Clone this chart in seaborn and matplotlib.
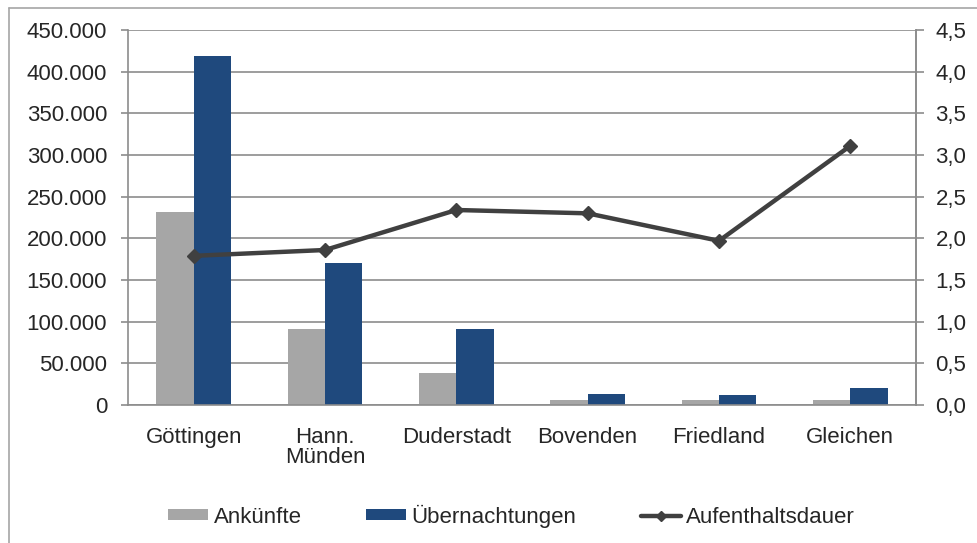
import matplotlib
matplotlib.use("Agg")
import matplotlib.pyplot as plt
from matplotlib.patches import Patch
from matplotlib.lines import Line2D
from matplotlib.ticker import FuncFormatter, MultipleLocator
import pandas as pd
import seaborn as sns

# Werte
orte = ["Göttingen", "Hann.\nMünden", "Duderstadt", "Bovenden", "Friedland", "Gleichen"]
ankuenfte = [232000, 91000, 39000, 6000, 6000, 6500]
uebernachtungen = [419000, 171000, 91000, 13600, 12000, 21000]
aufenthaltsdauer = [1.79, 1.86, 2.34, 2.30, 1.97, 3.11]

sns.set_style("white")
plt.rcParams["font.family"] = ["Liberation Sans", "DejaVu Sans"]

df = pd.DataFrame({
    "Ort": orte * 2,
    "Wert": ankuenfte + uebernachtungen,
    "Serie": ["Ankünfte"] * len(orte) + ["Übernachtungen"] * len(orte),
})

grau = "#A6A6A6"
blau = "#1F497D"
linie = "#404040"
gitter = "#8C8C8C"
fs = 16

fig = plt.figure(figsize=(9.78, 5.43), dpi=100)
ax = fig.add_axes([128 / 978, 1 - 405 / 543, (916 - 128) / 978, (405 - 30) / 543])

sns.barplot(data=df, x="Ort", y="Wert", hue="Serie", palette=[grau, blau],
            width=0.57, ax=ax, legend=False, saturation=1, errorbar=None,
            linewidth=0)

ax.set_ylim(0, 450000)
ax.set_xlim(-0.5, len(orte) - 0.5)
ax.yaxis.set_major_locator(MultipleLocator(50000))
ax.yaxis.set_major_formatter(FuncFormatter(lambda v, p: f"{int(v):,}".replace(",", ".")))
ax.grid(axis="y", color=gitter, linewidth=1.2)
ax.set_axisbelow(True)
ax.set_xlabel("")
ax.set_ylabel("")

# Kategorie-Grenzen als Ticks auf der x-Achse
ax.set_xticks([i - 0.5 for i in range(len(orte) + 1)], minor=False)
ax.set_xticklabels([])
ax.set_xticks(range(len(orte)), minor=True)
ax.set_xticklabels(orte, minor=True, fontsize=fs, linespacing=0.95)
ax.tick_params(axis="x", which="major", direction="out", length=5, color=gitter, width=1.2)
ax.tick_params(axis="x", which="minor", length=0, pad=16)
ax.tick_params(axis="y", direction="out", length=5, color=gitter, width=1.2,
               labelsize=fs, pad=10)

ax.spines["top"].set_visible(False)
for s in ["left", "bottom", "right"]:
    ax.spines[s].set_color(gitter)
    ax.spines[s].set_linewidth(1.2)

ax2 = ax.twinx()
ax2.plot(range(len(orte)), aufenthaltsdauer, color=linie, linewidth=3.2,
         marker="D", markersize=7, zorder=5)
ax2.set_ylim(0, 4.5)
ax2.yaxis.set_major_locator(MultipleLocator(0.5))
ax2.yaxis.set_major_formatter(FuncFormatter(lambda v, p: f"{v:.1f}".replace(".", ",")))
ax2.tick_params(axis="y", direction="out", length=6, color=gitter, width=1.2,
                labelsize=fs, pad=8)
for s in ["top", "left", "bottom"]:
    ax2.spines[s].set_visible(False)
ax2.spines["right"].set_color(gitter)
ax2.spines["right"].set_linewidth(1.2)

handles = [
    Patch(facecolor=grau, edgecolor="none"),
    Patch(facecolor=blau, edgecolor="none"),
    Line2D([0], [0], color=linie, linewidth=3.2, marker="D", markersize=5),
]
fig.legend(handles, ["Ankünfte", "Übernachtungen", "Aufenthaltsdauer"],
           loc="center", bbox_to_anchor=(0.523, 1 - 516 / 543), ncol=3,
           frameon=False, fontsize=fs, handlelength=1.8, handletextpad=0.25,
           columnspacing=2.9, handleheight=0.42, borderaxespad=0)

# Rahmen des Diagrammbereichs (nur links und oben sichtbar)
fig.add_artist(Line2D([9 / 978, 9 / 978], [0, 1 - 8 / 543], transform=fig.transFigure,
                      color="#A6A6A6", linewidth=1.2))
fig.add_artist(Line2D([9 / 978, 1], [1 - 8 / 543, 1 - 8 / 543], transform=fig.transFigure,
                      color="#A6A6A6", linewidth=1.2))

fig.savefig("out.png", dpi=100)
